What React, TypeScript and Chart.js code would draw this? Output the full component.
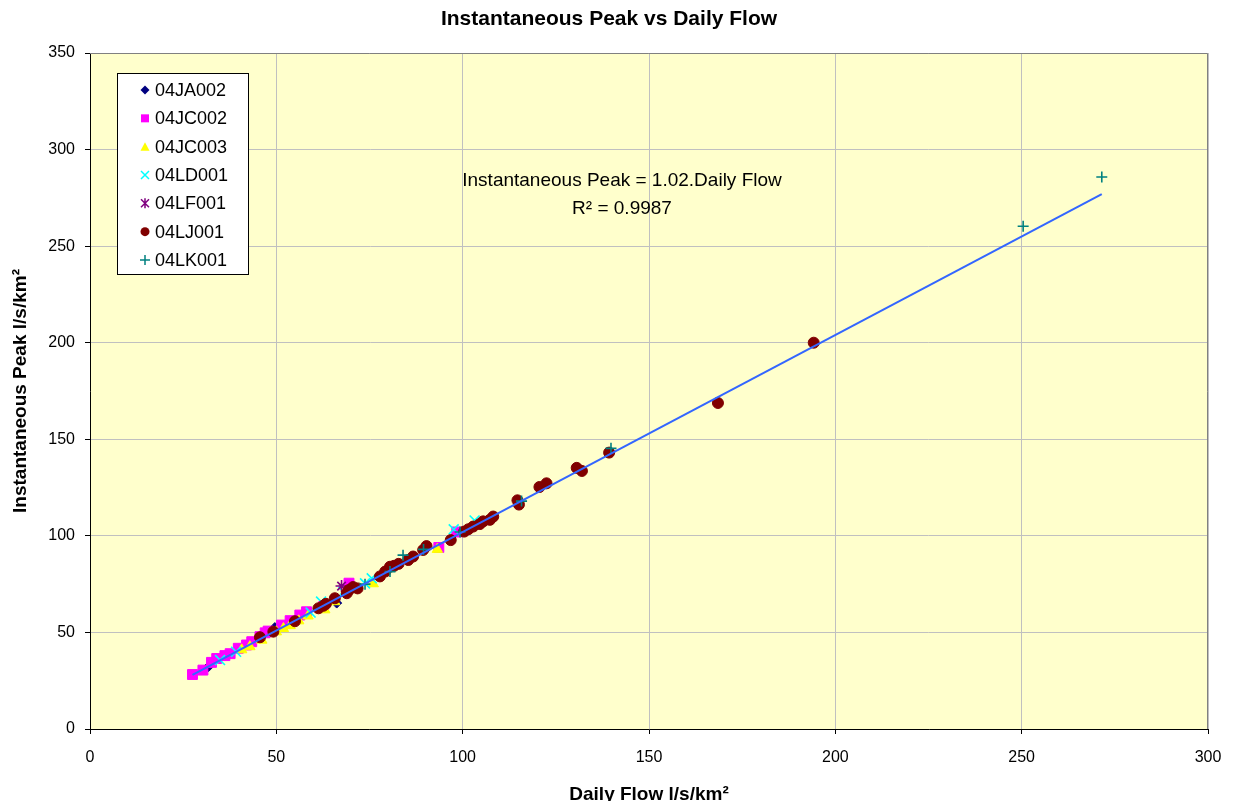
import React, { useEffect, useRef } from 'react';
import { Chart, registerables } from 'chart.js';

Chart.register(...registerables);
Chart.defaults.font.family = '"Liberation Sans", Arial, sans-serif';
Chart.defaults.color = '#000';

// Daily flow vs instantaneous peak, both in l/s/km², one list per gauging station
const ja002: [number, number][] = [[31.8, 32.3], [49.6, 52.5], [66.2, 65.2]];
const jc002: [number, number][] = [
  [27.5, 28.2], [30.3, 30.5], [32.6, 34.5], [34.0, 36.5], [36.2, 38.0], [37.6, 39.0],
  [39.8, 41.8], [42.0, 43.5], [43.4, 45.2], [45.6, 47.8], [47.0, 49.8], [47.8, 50.7],
  [51.4, 53.8], [53.7, 56.1], [56.3, 59.0], [58.1, 60.7], [62.6, 63.3], [69.5, 75.5],
  [93.6, 94.0], [98.4, 102.0],
];
const jc003: [number, number][] = [
  [40.7, 41.0], [42.9, 42.6], [46.1, 46.0], [50.0, 50.3], [51.9, 52.0], [53.7, 53.5],
  [56.0, 56.0], [58.5, 58.5], [63.0, 61.7], [65.7, 65.9], [76.0, 75.2], [93.2, 93.0],
];
const ld001: [number, number][] = [
  [34.9, 35.7], [39.2, 40.0], [59.2, 60.3], [62.0, 66.0], [68.0, 71.0], [73.8, 75.4],
  [75.6, 78.0], [97.6, 103.4], [103.2, 108.0],
];
const lf001: [number, number][] = [[67.5, 74.0]];
const lj001: [number, number][] = [
  [45.6, 47.5], [49.2, 50.4], [55.0, 55.8], [61.3, 62.5], [62.6, 63.8], [63.3, 64.8],
  [65.7, 67.7], [68.9, 70.3], [69.5, 72.0], [70.6, 73.5], [71.8, 72.8], [77.8, 79.0],
  [79.2, 81.5], [80.5, 84.0], [81.6, 84.5], [82.8, 85.5], [85.4, 87.5], [86.7, 89.3],
  [89.4, 92.7], [90.3, 94.7], [96.8, 97.8], [100.4, 102.2], [101.5, 103.4], [102.8, 104.8],
  [104.6, 106.1], [105.5, 107.5], [107.3, 108.3], [108.2, 110.0], [114.7, 118.4],
  [115.1, 116.2], [120.6, 125.3], [122.5, 127.2], [130.6, 135.2], [132.0, 133.6],
  [139.3, 143.1], [168.5, 168.8], [194.2, 200.0],
];
const lk001: [number, number][] = [
  [73.8, 75.0], [80.5, 81.5], [84.0, 90.0], [89.5, 93.0], [99.3, 102.0], [115.8, 118.0],
  [139.8, 145.3], [250.4, 260.3], [271.5, 285.8],
];

// Fitted line through the origin
const TREND_SLOPE = 1.02;
const R_SQUARED = '0.9987';

const X_MAX = 300;
const Y_MAX = 350;
const TICK_STEP = 50;

type Marker = 'diamond' | 'square' | 'triangle' | 'x' | 'star' | 'circle' | 'plus';

const stations: { name: string; points: [number, number][]; marker: Marker; color: string }[] = [
  { name: '04JA002', points: ja002, marker: 'diamond', color: '#000080' },
  { name: '04JC002', points: jc002, marker: 'square', color: '#FF00FF' },
  { name: '04JC003', points: jc003, marker: 'triangle', color: '#FFFF00' },
  { name: '04LD001', points: ld001, marker: 'x', color: '#00FFFF' },
  { name: '04LF001', points: lf001, marker: 'star', color: '#800080' },
  { name: '04LJ001', points: lj001, marker: 'circle', color: '#800000' },
  { name: '04LK001', points: lk001, marker: 'plus', color: '#008080' },
];

const chartStyle: Record<Marker, { pointStyle: string; radius: number; width: number }> = {
  diamond: { pointStyle: 'rectRot', radius: 5, width: 1 },
  square: { pointStyle: 'rect', radius: 7, width: 1 },
  triangle: { pointStyle: 'triangle', radius: 6, width: 1 },
  x: { pointStyle: 'crossRot', radius: 7, width: 1.6 },
  star: { pointStyle: 'star', radius: 6, width: 1.6 },
  circle: { pointStyle: 'circle', radius: 5.5, width: 1 },
  plus: { pointStyle: 'cross', radius: 5.5, width: 1.6 },
};

const FONT = '"Liberation Sans", Arial, sans-serif';

function drawMarker(ctx: CanvasRenderingContext2D, m: Marker, x: number, y: number, color: string) {
  const s = 4.5;
  ctx.save();
  ctx.fillStyle = color;
  ctx.strokeStyle = color;
  ctx.lineWidth = 1.5;
  ctx.beginPath();
  switch (m) {
    case 'diamond':
      ctx.moveTo(x, y - s); ctx.lineTo(x + s, y); ctx.lineTo(x, y + s); ctx.lineTo(x - s, y);
      ctx.closePath(); ctx.fill();
      break;
    case 'square':
      ctx.rect(x - 4, y - 4, 8, 8); ctx.fill();
      break;
    case 'triangle':
      ctx.moveTo(x, y - s); ctx.lineTo(x + s, y + 4); ctx.lineTo(x - s, y + 4);
      ctx.closePath(); ctx.fill();
      break;
    case 'x':
      ctx.moveTo(x - 4, y - 4); ctx.lineTo(x + 4, y + 4);
      ctx.moveTo(x + 4, y - 4); ctx.lineTo(x - 4, y + 4); ctx.stroke();
      break;
    case 'star':
      ctx.moveTo(x - 4, y - 4); ctx.lineTo(x + 4, y + 4);
      ctx.moveTo(x + 4, y - 4); ctx.lineTo(x - 4, y + 4);
      ctx.moveTo(x, y - 5); ctx.lineTo(x, y + 5); ctx.stroke();
      break;
    case 'circle':
      ctx.arc(x, y, s, 0, Math.PI * 2); ctx.fill();
      break;
    case 'plus':
      ctx.moveTo(x - 5, y); ctx.lineTo(x + 5, y);
      ctx.moveTo(x, y - 5); ctx.lineTo(x, y + 5); ctx.stroke();
      break;
  }
  ctx.restore();
}

const decorPlugin = {
  id: 'decor',
  beforeDraw(chart: any) {
    const { ctx, chartArea: a } = chart;
    ctx.save();
    ctx.fillStyle = '#FFFFFF';
    ctx.fillRect(0, 0, chart.width, chart.height);
    ctx.fillStyle = '#FFFFCC';
    ctx.fillRect(a.left, a.top, a.right - a.left, a.bottom - a.top);
    ctx.restore();
  },
  beforeDatasetsDraw(chart: any) {
    const { ctx, chartArea: a } = chart;
    ctx.save();
    ctx.strokeStyle = '#808080';
    ctx.lineWidth = 1;
    ctx.beginPath();
    ctx.moveTo(a.left, Math.round(a.top) + 0.5);
    ctx.lineTo(Math.round(a.right) - 0.5, Math.round(a.top) + 0.5);
    ctx.lineTo(Math.round(a.right) - 0.5, a.bottom);
    ctx.stroke();
    ctx.restore();
  },
  afterDraw(chart: any) {
    const { ctx } = chart;
    ctx.save();
    // chart title
    ctx.fillStyle = '#000';
    ctx.textAlign = 'center';
    ctx.textBaseline = 'middle';
    ctx.font = `bold 21px ${FONT}`;
    ctx.fillText('Instantaneous Peak vs Daily Flow', 601, 11);

    // trend equation
    ctx.font = `19px ${FONT}`;
    ctx.fillText(`Instantaneous Peak = ${TREND_SLOPE.toFixed(2)}.Daily Flow`, 614, 173);
    ctx.fillText(`R² = ${R_SQUARED}`, 614, 201);

    // legend box
    const bx = 109, by = 65, bw = 131, bh = 201;
    ctx.fillStyle = '#FFFFFF';
    ctx.fillRect(bx, by, bw, bh);
    ctx.strokeStyle = '#000';
    ctx.lineWidth = 1;
    ctx.strokeRect(bx + 0.5, by + 0.5, bw, bh);
    ctx.textAlign = 'left';
    ctx.font = `18px ${FONT}`;
    stations.forEach((st, i) => {
      const y = 82 + i * 28.33;
      drawMarker(ctx, st.marker, 137, y, st.color);
      ctx.fillStyle = '#000';
      ctx.fillText(st.name, 147, y + 1);
    });
    ctx.restore();
  },
};

export default function App() {
  const canvasRef = useRef<HTMLCanvasElement | null>(null);

  useEffect(() => {
    if (!canvasRef.current) return;
    const allX = stations.flatMap((s) => s.points.map((p) => p[0]));
    const xLo = Math.min(...allX);
    const xHi = Math.max(...allX);

    const datasets: any[] = stations.map((st, i) => {
      const cs = chartStyle[st.marker];
      return {
        label: st.name,
        data: st.points.map(([x, y]) => ({ x, y })),
        pointStyle: cs.pointStyle,
        pointRadius: cs.radius,
        pointBorderWidth: cs.width,
        pointBackgroundColor: st.color,
        pointBorderColor: st.color,
        showLine: false,
        order: stations.length - i,
      };
    });
    datasets.push({
      label: 'Trend',
      data: [
        { x: xLo, y: TREND_SLOPE * xLo },
        { x: xHi, y: TREND_SLOPE * xHi },
      ],
      showLine: true,
      borderColor: '#3366FF',
      borderWidth: 2,
      pointRadius: 0,
      order: 0,
    });

    const chart = new Chart(canvasRef.current, {
      type: 'scatter',
      data: { datasets },
      plugins: [decorPlugin],
      options: {
        animation: false,
        responsive: false,
        layout: { padding: { top: 45, right: 20, bottom: 0, left: 0 } },
        plugins: {
          legend: { display: false },
          title: { display: false },
          tooltip: { enabled: false },
        },
        scales: {
          x: {
            type: 'linear',
            min: 0,
            max: X_MAX,
            afterFit: (s: any) => {
              s.height = 72;
              s.paddingLeft = 0;
              s.paddingRight = 0;
            },
            ticks: { stepSize: TICK_STEP, padding: 14, color: '#000', font: { size: 16 } },
            grid: { color: '#C0C0C0', tickColor: '#000', tickLength: 5 },
            border: { color: '#000', width: 1 },
            title: {
              display: true,
              text: 'Daily Flow l/s/km²',
              color: '#000',
              font: { size: 19, weight: 'bold' },
              padding: { top: 0, bottom: -5 },
            },
          },
          y: {
            type: 'linear',
            min: 0,
            max: Y_MAX,
            afterFit: (s: any) => {
              s.width = 82;
              s.paddingTop = 0;
              s.paddingBottom = 0;
            },
            ticks: { stepSize: TICK_STEP, padding: 10, color: '#000', font: { size: 16 } },
            grid: { color: '#C0C0C0', tickColor: '#000', tickLength: 5 },
            border: { color: '#000', width: 1 },
            title: {
              display: true,
              text: 'Instantaneous Peak l/s/km²',
              color: '#000',
              font: { size: 19, weight: 'bold' },
              padding: { top: 1, bottom: 0 },
            },
          },
        },
      } as any,
    });
    return () => chart.destroy();
  }, []);

  return (
    <div style={{ width: 1220, height: 793 }}>
      <canvas ref={canvasRef} width={1220} height={793} style={{ display: 'block' }} />
    </div>
  );
}
